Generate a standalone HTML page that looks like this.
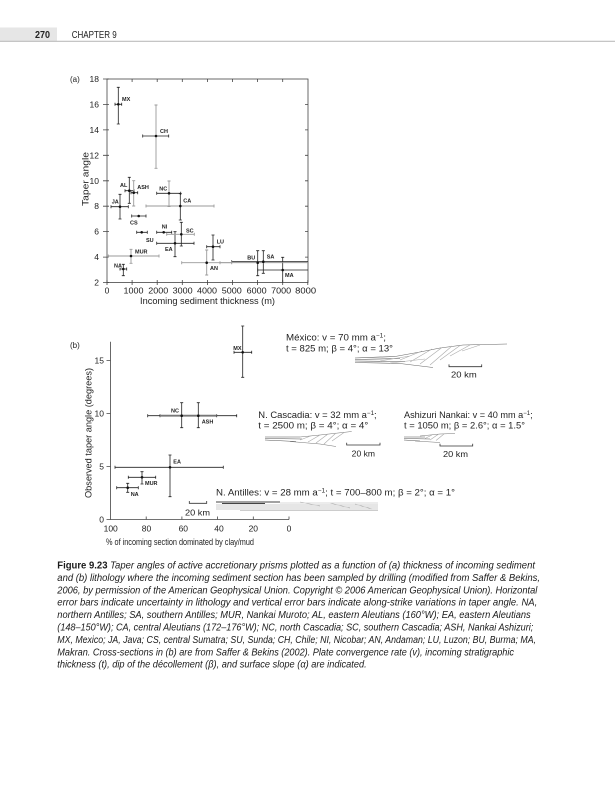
<!DOCTYPE html>
<html>
<head>
<meta charset="utf-8">
<style>
html,body{margin:0;padding:0;background:#fff;}
svg{display:block;}
text{font-family:"Liberation Sans",Arial,sans-serif;fill:#222;}
.cap{font-style:italic;font-size:9.8px;fill:#1a1a1a;}
.lbl{font-size:5.5px;font-weight:bold;fill:#222;}
.tk{font-size:8.5px;}
.ann{font-size:9px;fill:#222;}
</style>
</head>
<body>
<svg width="615" height="800" viewBox="0 0 615 800" xmlns="http://www.w3.org/2000/svg">
<rect x="0" y="0" width="615" height="800" fill="#fff"/>

<!-- Header -->
<rect x="0" y="27.5" width="57" height="13.5" fill="#e6e6e6"/>
<line x1="0" y1="41.3" x2="615" y2="41.3" stroke="#bdbdbd" stroke-width="1.2"/>
<text x="35" y="37.8" font-size="10" font-weight="bold" textLength="15" lengthAdjust="spacingAndGlyphs">270</text>
<text x="71.7" y="37.8" font-size="10" textLength="45" lengthAdjust="spacingAndGlyphs">CHAPTER 9</text>

<!-- ============ Panel (a) ============ -->
<g stroke="#444" stroke-width="0.8" fill="none">
  <rect x="107" y="79" width="201" height="203.5"/>
  <path d="M103 79H109M103 104.4H109M103 129.9H109M103 155.3H109M103 180.8H109M103 206.2H109M103 231.6H109M103 257.1H109M103 282.5H109"/>
  <path d="M305 104.4H308M305 129.9H308M305 155.3H308M305 180.8H308M305 206.2H308M305 231.6H308M305 257.1H308"/>
  <path d="M132.1 79V82M157.2 79V82M182.3 79V82M207.4 79V82M232.5 79V82M257.6 79V82M282.7 79V82"/>
  <path d="M107 280V285M132.1 280V285M157.2 280V285M182.3 280V285M207.4 280V285M232.5 280V285M257.6 280V285M282.7 280V285M307.8 280V285"/>
</g>
<text x="70" y="82" font-size="8">(a)</text>
<g class="tk" text-anchor="end">
  <text x="99" y="82">18</text>
  <text x="99" y="107.4">16</text>
  <text x="99" y="132.9">14</text>
  <text x="99" y="158.3">12</text>
  <text x="99" y="183.8">10</text>
  <text x="99" y="209.2">8</text>
  <text x="99" y="234.6">6</text>
  <text x="99" y="260.1">4</text>
  <text x="99" y="285.5">2</text>
</g>
<g class="tk" text-anchor="middle">
  <text x="107" y="293.7">0</text>
  <text x="133.5" y="293.7" textLength="20" lengthAdjust="spacingAndGlyphs">1000</text>
  <text x="158.3" y="293.7" textLength="20" lengthAdjust="spacingAndGlyphs">2000</text>
  <text x="182.6" y="293.7" textLength="20" lengthAdjust="spacingAndGlyphs">3000</text>
  <text x="207" y="293.7" textLength="20" lengthAdjust="spacingAndGlyphs">4000</text>
  <text x="231.8" y="293.7" textLength="20" lengthAdjust="spacingAndGlyphs">5000</text>
  <text x="256.7" y="293.7" textLength="20" lengthAdjust="spacingAndGlyphs">6000</text>
  <text x="281.2" y="293.7" textLength="20" lengthAdjust="spacingAndGlyphs">7000</text>
  <text x="305.7" y="293.7" textLength="21" lengthAdjust="spacingAndGlyphs">8000</text>
</g>
<text x="207.5" y="304" font-size="9" text-anchor="middle" textLength="135" lengthAdjust="spacingAndGlyphs">Incoming sediment thickness (m)</text>
<text transform="translate(88.3,179) rotate(-90)" font-size="9.5" text-anchor="middle" textLength="54" lengthAdjust="spacingAndGlyphs">Taper angle</text>

<!-- error bars (a) black -->
<g stroke="#222" stroke-width="0.8" fill="none">
  <path d="M118.3 87.3V124M116.8 87.3H119.8M116.8 124H119.8M115 104.3H121.7M115 102.8V105.8M121.7 102.8V105.8"/>
  <path d="M142.7 136H168.7M142.7 134.5V137.5M168.7 134.5V137.5"/>
  <path d="M129.3 177.3V203.3M127.8 177.3H130.8M127.8 203.3H130.8M125 190.7H134M125 189.2V192.2M134 189.2V192.2"/>
  <path d="M131 192.7H137.7M131 191.2V194.2M137.7 191.2V194.2"/>
  <path d="M156.7 193.3H180.7M156.7 191.8V194.8M180.7 191.8V194.8"/>
  <path d="M180.3 193.7V220M178.8 193.7H181.8M178.8 220H181.8"/>
  <path d="M120 194.3V219M118.5 194.3H121.5M118.5 219H121.5M111 206.7H128.3M111 205.2V208.2M128.3 205.2V208.2"/>
  <path d="M131.7 216H146M131.7 214.5V217.5M146 214.5V217.5"/>
  <path d="M136.7 232.3H147.3M136.7 230.8V233.8M147.3 230.8V233.8"/>
  <path d="M156.7 232.3H171.7M156.7 230.8V233.8M171.7 230.8V233.8"/>
  <path d="M181.3 222.3V246M179.8 222.3H182.8M179.8 246H182.8"/>
  <path d="M175 231.7V256.7M173.5 231.7H176.5M173.5 256.7H176.5M156.7 243.3H194M156.7 241.8V244.8M194 241.8V244.8"/>
  <path d="M213 235V260M211.5 235H214.5M211.5 260H214.5M206.7 246.7H220M206.7 245.2V248.2M220 245.2V248.2"/>
  <path d="M123.3 264.3V275.7M121.8 264.3H124.8M121.8 275.7H124.8M120 269H126.7M120 267.5V270.5M126.7 267.5V270.5"/>
  <path d="M257.7 250.7V275.7M256.2 250.7H259.2M256.2 275.7H259.2"/>
  <path d="M263.3 250.7V273.3M261.8 250.7H264.8M261.8 273.3H264.8M231.7 261.7H308M231.7 260.2V263.2"/>
  <path d="M282.7 257.3V282.5M281.2 257.3H284.2M257.7 270H308M257.7 268.5V271.5"/>
</g>
<!-- error bars (a) grey -->
<g stroke="#9a9a9a" stroke-width="0.9" fill="none">
  <path d="M156 105V168.3M154.5 105H157.5M154.5 168.3H157.5"/>
  <path d="M133.7 180.7V206M132.2 180.7H135.2M132.2 206H135.2"/>
  <path d="M169 181V206.5M167.5 181H170.5M167.5 206.5H170.5"/>
  <path d="M146 206H214M146 204.5V207.5M214 204.5V207.5"/>
  <path d="M166.7 234.3H194.3M166.7 232.8V235.8M194.3 232.8V235.8"/>
  <path d="M131 249.3V263.3M129.5 249.3H132.5M129.5 263.3H132.5M108.3 256H159M108.3 254.5V257.5M159 254.5V257.5"/>
  <path d="M206.7 250V275M205.2 250H208.2M205.2 275H208.2M181.7 262.7H231.7M181.7 261.2V264.2M231.7 261.2V264.2"/>
  <path d="M220 262.7H308M220 261.2V264.2"/>
</g>
<g fill="#111">
  <circle cx="118.3" cy="104.3" r="1.3"/>
  <circle cx="156" cy="136" r="1.3"/>
  <circle cx="129.3" cy="190.7" r="1.3"/>
  <circle cx="133.7" cy="192.7" r="1.3"/>
  <circle cx="169" cy="193.3" r="1.3"/>
  <circle cx="180.3" cy="206" r="1.3"/>
  <circle cx="120" cy="206.7" r="1.3"/>
  <circle cx="138.7" cy="216" r="1.3"/>
  <circle cx="141.7" cy="232.3" r="1.3"/>
  <circle cx="163.7" cy="232.3" r="1.3"/>
  <circle cx="181.3" cy="234.3" r="1.3"/>
  <circle cx="175" cy="243.3" r="1.3"/>
  <circle cx="213" cy="246.7" r="1.3"/>
  <circle cx="131" cy="256" r="1.3"/>
  <circle cx="123.3" cy="269" r="1.3"/>
  <circle cx="206.7" cy="262.7" r="1.3"/>
  <circle cx="257.7" cy="262.7" r="1.3"/>
  <circle cx="263.3" cy="261.7" r="1.3"/>
  <circle cx="282.7" cy="270" r="1.3"/>
</g>
<g class="lbl">
  <text x="122" y="101">MX</text>
  <text x="160" y="133">CH</text>
  <text x="120" y="187">AL</text>
  <text x="137.3" y="189">ASH</text>
  <text x="159.3" y="190.5">NC</text>
  <text x="183.3" y="202.5">CA</text>
  <text x="111.7" y="203.5">JA</text>
  <text x="130" y="224.5">CS</text>
  <text x="146" y="242">SU</text>
  <text x="161.7" y="228.5">NI</text>
  <text x="186" y="232.5">SC</text>
  <text x="165" y="251">EA</text>
  <text x="216.7" y="243.5">LU</text>
  <text x="135" y="253.5">MUR</text>
  <text x="114" y="267.5">NA</text>
  <text x="210" y="270">AN</text>
  <text x="247.3" y="259.5">BU</text>
  <text x="266.7" y="258.5">SA</text>
  <text x="285" y="277">MA</text>
</g>

<!-- ============ Panel (b) ============ -->
<text x="70" y="348" font-size="8">(b)</text>
<g stroke="#444" stroke-width="0.8" fill="none">
  <path d="M110.5 341.7V519.5H289"/>
  <path d="M106.5 519.5H110.5M106.5 466.5H110.5M106.5 413.5H110.5M106.5 360.5H110.5"/>
  <path d="M146.2 516.5V519.5M181.9 516.5V519.5M217.6 516.5V519.5M253.3 516.5V519.5M289 516.5V519.5"/>
</g>
<g class="tk" text-anchor="end">
  <text x="104" y="522.5">0</text>
  <text x="104" y="469.5">5</text>
  <text x="104" y="416.5">10</text>
  <text x="104" y="363.5">15</text>
</g>
<g class="tk" text-anchor="middle">
  <text x="110.7" y="531.5">100</text>
  <text x="146.5" y="531.5">80</text>
  <text x="183.3" y="531.5">60</text>
  <text x="219" y="531.5">40</text>
  <text x="253.3" y="531.5">20</text>
  <text x="289" y="531.5">0</text>
</g>
<text x="180" y="545" font-size="9.5" text-anchor="middle" textLength="148" lengthAdjust="spacingAndGlyphs">% of incoming section dominated by clay/mud</text>
<text transform="translate(91.5,433) rotate(-90)" font-size="9" text-anchor="middle" textLength="130" lengthAdjust="spacingAndGlyphs">Observed taper angle (degrees)</text>

<g stroke="#222" stroke-width="0.8" fill="none">
  <path d="M242.7 326V377.3M241.2 326H244.2M241.2 377.3H244.2M234 352.3H251.7M234 350.8V353.8M251.7 350.8V353.8"/>
  <path d="M181.7 402.7V427.7M180.2 402.7H183.2M180.2 427.7H183.2"/>
  <path d="M198.3 402.7V427.7M196.8 402.7H199.8M196.8 427.7H199.8"/>
  <path d="M147.7 415.7H236.7M147.7 414.2V417.2M236.7 414.2V417.2M160 414.2V417.2M216.7 414.2V417.2"/>
  <path d="M170 455V496.7M168.5 455H171.5M168.5 496.7H171.5M115 467.3H223.3M115 465.8V468.8M223.3 465.8V468.8"/>
  <path d="M142 471.7V484M140.5 471.7H143.5M140.5 484H143.5M128.3 477.3H155.7M128.3 475.8V478.8M155.7 475.8V478.8"/>
  <path d="M127.7 483.3V492.3M126.2 483.3H129.2M126.2 492.3H129.2M116.7 487.7H138.3M116.7 486.2V489.2M138.3 486.2V489.2"/>
</g>
<line x1="160" y1="415.7" x2="216.7" y2="415.7" stroke="#777" stroke-width="1.8"/>
<g fill="#111">
  <circle cx="242.7" cy="352.3" r="1.3"/>
  <circle cx="181.7" cy="415.7" r="1.3"/>
  <circle cx="198.3" cy="415.7" r="1.3"/>
  <circle cx="170" cy="467.3" r="1.3"/>
  <circle cx="142" cy="477.3" r="1.3"/>
  <circle cx="127.7" cy="487.7" r="1.3"/>
</g>
<g class="lbl">
  <text x="233.3" y="350">MX</text>
  <text x="171" y="412.5">NC</text>
  <text x="201.7" y="423.5">ASH</text>
  <text x="173.3" y="463.5">EA</text>
  <text x="145" y="485">MUR</text>
  <text x="130.7" y="496">NA</text>
</g>

<path d="M189.3 501V503.3H206.7V501" stroke="#333" stroke-width="0.8" fill="none"/>
<text x="185" y="515.7" font-size="8.5" textLength="25" lengthAdjust="spacingAndGlyphs">20 km</text>

<!-- México annotation -->
<text class="ann" x="286" y="340.5" textLength="100" lengthAdjust="spacingAndGlyphs">México: v = 70 mm a<tspan font-size="6" dy="-3">−1</tspan><tspan dy="3">;</tspan></text>
<text class="ann" x="286" y="351.5" textLength="107" lengthAdjust="spacingAndGlyphs">t = 825 m; β = 4°; α = 13°</text>
<g fill="none" stroke-width="0.6">
  <path d="M355 358L395 356.5M355 359.5L400 358.5M355 361L405 361.5" stroke="#555"/>
  <path d="M395 356.5L420 352L440 348L463 345L507 344" stroke="#666"/>
  <path d="M355 362.5L400 363.5L433 367.5" stroke="#666"/>
  <path d="M400 360L422 351M410 362L432 349M420 364L442 347.5M430 365L452 346M440 360L460 345.5M450 356L470 345M462 351L480 345M380 361L410 356M390 363L425 359" stroke="#aaa"/>
</g>
<path d="M449 364.4V366.7H481.7V364.4" stroke="#333" stroke-width="0.8" fill="none"/>
<text x="451" y="377.5" font-size="8.5" textLength="25.7" lengthAdjust="spacingAndGlyphs">20 km</text>

<!-- N. Cascadia annotation -->
<text class="ann" x="258.3" y="418" textLength="118.4" lengthAdjust="spacingAndGlyphs">N. Cascadia: v = 32 mm a<tspan font-size="6" dy="-3">−1</tspan><tspan dy="3">;</tspan></text>
<text class="ann" x="258.3" y="428.3" textLength="110" lengthAdjust="spacingAndGlyphs">t = 2500 m; β = 4°; α = 4°</text>
<g fill="none" stroke-width="0.6">
  <path d="M265 437L300 437M265 438.5L302 439M265 440L296 441.5" stroke="#555"/>
  <path d="M300 437L320 435L351.7 431.5" stroke="#777"/>
  <path d="M290 441.5L320 444L336 446.5" stroke="#777"/>
  <path d="M300 440L312 435.5M308 442L320 435M316 443L328 434M324 444L336 433M332 441L344 432.5" stroke="#aaa"/>
</g>
<path d="M346.7 442.7V445H380V442.7" stroke="#333" stroke-width="0.8" fill="none"/>
<text x="351.7" y="456.5" font-size="8.5" textLength="23.3" lengthAdjust="spacingAndGlyphs">20 km</text>

<!-- Ashizuri annotation -->
<text class="ann" x="404" y="418" textLength="128.7" lengthAdjust="spacingAndGlyphs">Ashizuri Nankai: v = 40 mm a<tspan font-size="6" dy="-3">−1</tspan><tspan dy="3">;</tspan></text>
<text class="ann" x="404" y="428.3" textLength="121" lengthAdjust="spacingAndGlyphs">t = 1050 m; β = 2.6°; α = 1.5°</text>
<g fill="none" stroke-width="0.6">
  <path d="M404 437L425 437M404 438.5L430 439M404 440L420 441" stroke="#555"/>
  <path d="M420 436L440 434L455 433.5" stroke="#777"/>
  <path d="M415 441L440 442.5" stroke="#777"/>
  <path d="M424 439L432 435M430 440L438 434.5M436 440.5L444 434" stroke="#aaa"/>
</g>
<path d="M440 443.7V446H472.7V443.7" stroke="#333" stroke-width="0.8" fill="none"/>
<text x="443" y="457" font-size="8.5" textLength="25" lengthAdjust="spacingAndGlyphs">20 km</text>

<!-- N. Antilles annotation -->
<text class="ann" x="216" y="495.5" textLength="239" lengthAdjust="spacingAndGlyphs">N. Antilles: v = 28 mm a<tspan font-size="6" dy="-3">−1</tspan><tspan dy="3">; t = 700–800 m; β = 2°; α = 1°</tspan></text>
<g fill="none" stroke-width="0.6">
  <path d="M216 502L280 502M222 503.5L265 503.5" stroke="#444" stroke-width="0.9"/>
  <path d="M216 505L378 505M216 507L378 507M216 509L378 509M240 510.5L378 510.5" stroke="#999"/>
  <path d="M280 503L378 503M300 502L320 506M330 503L350 508M355 504L372 509" stroke="#b5b5b5"/>
</g>

<!-- ============ Caption ============ -->
<text class="cap" x="57.3" y="568.5" textLength="477.7" lengthAdjust="spacingAndGlyphs"><tspan font-weight="bold" font-style="normal">Figure 9.23</tspan> Taper angles of active accretionary prisms plotted as a function of (a) thickness of incoming sediment</text>
<text class="cap" x="57.3" y="580.9" textLength="482.7" lengthAdjust="spacingAndGlyphs">and (b) lithology where the incoming sediment section has been sampled by drilling (modified from Saffer &amp; Bekins,</text>
<text class="cap" x="57.3" y="593.3" textLength="480" lengthAdjust="spacingAndGlyphs">2006, by permission of the American Geophysical Union. Copyright © 2006 American Geophysical Union). Horizontal</text>
<text class="cap" x="57.3" y="605.7" textLength="480" lengthAdjust="spacingAndGlyphs">error bars indicate uncertainty in lithology and vertical error bars indicate along-strike variations in taper angle. NA,</text>
<text class="cap" x="57.3" y="618.1" textLength="473.4" lengthAdjust="spacingAndGlyphs">northern Antilles; SA, southern Antilles; MUR, Nankai Muroto; AL, eastern Aleutians (160°W); EA, eastern Aleutians</text>
<text class="cap" x="57.3" y="630.5" textLength="476" lengthAdjust="spacingAndGlyphs">(148–150°W); CA, central Aleutians (172–176°W); NC, north Cascadia; SC, southern Cascadia; ASH, Nankai Ashizuri;</text>
<text class="cap" x="57.3" y="642.9" textLength="478.7" lengthAdjust="spacingAndGlyphs">MX, Mexico; JA, Java; CS, central Sumatra; SU, Sunda; CH, Chile; NI, Nicobar; AN, Andaman; LU, Luzon; BU, Burma; MA,</text>
<text class="cap" x="57.3" y="655.3" textLength="456.7" lengthAdjust="spacingAndGlyphs">Makran. Cross-sections in (b) are from Saffer &amp; Bekins (2002). Plate convergence rate (v), incoming stratigraphic</text>
<text class="cap" x="57.3" y="667.7" textLength="309.4" lengthAdjust="spacingAndGlyphs">thickness (t), dip of the décollement (β), and surface slope (α) are indicated.</text>
</svg>
</body>
</html>
